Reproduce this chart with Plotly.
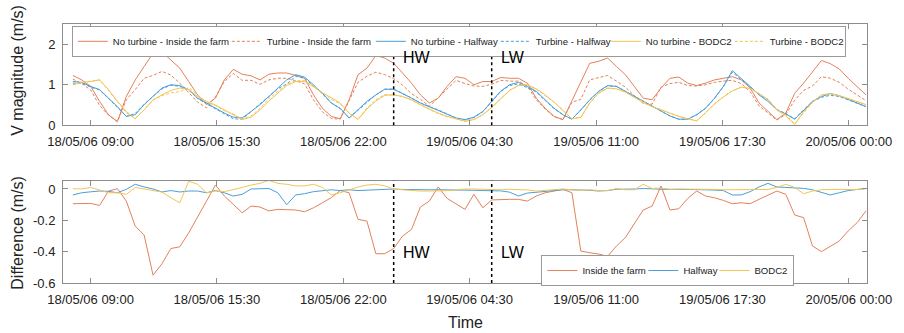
import plotly.graph_objects as go
import pandas as pd

# ---------------- data ----------------
start_time = "2006-05-18 08:05:24"
n_samples = 90
step = "1650s"   # 27.5 min
times = pd.date_range(start_time, periods=n_samples, freq=step)

hw_time = times[36]
lw_time = times[47]

inside_no = [1.23, 1.12, 0.96, 0.59, 0.26, 0.09, 0.71, 1.12, 1.45, 1.78,
             1.81, 1.62, 1.41, 1.08, 0.75, 0.51, 0.67, 1.12, 1.38, 1.26,
             1.22, 1.12, 1.26, 1.29, 1.29, 1.23, 1.16, 0.75, 0.42, 0.22,
             0.16, 0.63, 1.25, 1.41, 1.72, 1.66, 1.53, 1.29, 1.04, 0.75,
             0.55, 0.67, 0.96, 1.20, 1.16, 1.00, 1.08, 1.08, 1.18, 1.16,
             1.16, 1.04, 0.67, 0.42, 0.22, 0.14, 0.59, 1.04, 1.53, 1.58,
             1.66, 1.45, 1.25, 0.96, 0.67, 0.63, 0.92, 1.16, 1.19, 1.04,
             0.98, 1.04, 1.12, 1.16, 1.20, 1.12, 0.92, 0.55, 0.34, 0.14,
             0.30, 0.79, 1.04, 1.33, 1.60, 1.52, 1.39, 1.16, 0.96, 0.75]
inside_tu = [1.14, 1.03, 0.87, 0.49, 0.25, 0.09, 0.63, 0.88, 1.16, 1.23,
             1.33, 1.24, 1.04, 0.80, 0.57, 0.43, 0.70, 1.08, 1.28, 1.11,
             1.11, 1.01, 1.12, 1.16, 1.16, 1.10, 1.02, 0.63, 0.33, 0.17,
             0.15, 0.61, 1.06, 1.21, 1.31, 1.25, 1.15, 0.99, 0.78, 0.64,
             0.47, 0.68, 0.90, 1.11, 1.03, 0.97, 0.96, 1.01, 1.11, 1.09,
             1.09, 0.96, 0.63, 0.40, 0.21, 0.14, 0.57, 0.64, 1.12, 1.17,
             1.23, 1.09, 0.94, 0.73, 0.54, 0.52, 0.94, 1.03, 1.06, 0.98,
             0.97, 1.00, 1.06, 1.09, 1.11, 1.03, 0.83, 0.48, 0.30, 0.13,
             0.27, 0.62, 0.86, 0.97, 1.20, 1.16, 1.06, 0.89, 0.75, 0.61]
half_no = [1.08, 1.06, 0.96, 0.88, 0.67, 0.46, 0.22, 0.26, 0.51, 0.71,
           0.92, 1.00, 0.98, 0.88, 0.67, 0.55, 0.42, 0.30, 0.20, 0.18,
           0.34, 0.51, 0.71, 0.92, 1.12, 1.25, 1.19, 1.00, 0.79, 0.55,
           0.42, 0.18, 0.38, 0.59, 0.75, 0.89, 0.89, 0.79, 0.67, 0.55,
           0.46, 0.38, 0.28, 0.18, 0.14, 0.20, 0.34, 0.59, 0.84, 1.00,
           1.06, 0.96, 0.84, 0.63, 0.42, 0.26, 0.15, 0.38, 0.63, 0.84,
           0.98, 0.96, 0.84, 0.71, 0.59, 0.46, 0.34, 0.23, 0.15, 0.15,
           0.26, 0.42, 0.67, 0.96, 1.35, 1.16, 0.96, 0.75, 0.59, 0.38,
           0.28, 0.15, 0.38, 0.59, 0.71, 0.78, 0.73, 0.63, 0.55, 0.46]
half_tu = [1.04, 1.04, 0.94, 0.87, 0.66, 0.44, 0.22, 0.29, 0.52, 0.71,
           0.90, 0.99, 0.96, 0.87, 0.66, 0.53, 0.41, 0.28, 0.16, 0.15,
           0.34, 0.51, 0.71, 0.90, 1.02, 1.21, 1.16, 0.98, 0.78, 0.55,
           0.41, 0.18, 0.37, 0.58, 0.75, 0.89, 0.89, 0.79, 0.67, 0.55,
           0.46, 0.38, 0.28, 0.18, 0.13, 0.19, 0.33, 0.58, 0.83, 0.98,
           1.02, 0.93, 0.82, 0.61, 0.41, 0.26, 0.15, 0.38, 0.62, 0.83,
           0.97, 0.96, 0.84, 0.71, 0.59, 0.46, 0.34, 0.23, 0.15, 0.15,
           0.26, 0.42, 0.66, 0.95, 1.31, 1.12, 0.94, 0.76, 0.63, 0.39,
           0.29, 0.16, 0.38, 0.59, 0.69, 0.74, 0.71, 0.62, 0.55, 0.46]
bodc_no = [1.00, 1.06, 1.08, 1.12, 0.88, 0.59, 0.34, 0.16, 0.38, 0.63,
           0.75, 0.86, 0.92, 0.88, 0.71, 0.59, 0.50, 0.38, 0.28, 0.14,
           0.20, 0.38, 0.60, 0.80, 0.98, 1.08, 1.08, 0.95, 0.80, 0.68,
           0.55, 0.30, 0.14, 0.40, 0.60, 0.74, 0.75, 0.71, 0.63, 0.51,
           0.40, 0.30, 0.22, 0.16, 0.10, 0.14, 0.26, 0.44, 0.66, 0.86,
           0.98, 1.00, 0.90, 0.75, 0.57, 0.37, 0.16, 0.20, 0.55, 0.80,
           0.92, 0.90, 0.82, 0.69, 0.56, 0.46, 0.38, 0.30, 0.22, 0.16,
           0.11, 0.31, 0.53, 0.70, 0.85, 0.94, 0.91, 0.78, 0.64, 0.38,
           0.23, 0.02, 0.34, 0.57, 0.75, 0.78, 0.73, 0.66, 0.58, 0.51]
bodc_tu = [1.00, 1.06, 1.09, 1.12, 0.86, 0.57, 0.31, 0.17, 0.38, 0.62,
           0.73, 0.80, 0.83, 0.93, 0.74, 0.57, 0.49, 0.36, 0.28, 0.15,
           0.23, 0.42, 0.66, 0.84, 1.01, 1.10, 1.10, 0.98, 0.81, 0.64,
           0.53, 0.30, 0.15, 0.43, 0.63, 0.76, 0.75, 0.71, 0.62, 0.50,
           0.39, 0.29, 0.21, 0.16, 0.10, 0.14, 0.26, 0.44, 0.66, 0.86,
           0.98, 0.99, 0.89, 0.74, 0.57, 0.37, 0.16, 0.19, 0.55, 0.79,
           0.91, 0.90, 0.82, 0.69, 0.59, 0.46, 0.39, 0.30, 0.22, 0.16,
           0.11, 0.31, 0.53, 0.70, 0.85, 0.94, 0.91, 0.78, 0.64, 0.39,
           0.26, 0.03, 0.31, 0.56, 0.75, 0.78, 0.73, 0.66, 0.58, 0.51]

diff_inside = [-0.094, -0.093, -0.092, -0.105, -0.013, 0.002, -0.077, -0.237, -0.294, -0.55,
               -0.477, -0.38, -0.369, -0.28, -0.183, -0.077, 0.025, -0.045, -0.098, -0.152,
               -0.109, -0.115, -0.14, -0.13, -0.132, -0.134, -0.145, -0.12, -0.088, -0.055,
               -0.01, -0.024, -0.194, -0.205, -0.413, -0.413, -0.38, -0.30, -0.258, -0.115,
               -0.077, 0.013, -0.06, -0.094, -0.13, -0.034, -0.12, -0.07, -0.066, -0.066,
               -0.066, -0.077, -0.045, -0.024, -0.013, -0.002, -0.024, -0.396, -0.407, -0.415,
               -0.43, -0.364, -0.31, -0.226, -0.134, -0.109, 0.019, -0.134, -0.126, -0.06,
               -0.013, -0.045, -0.056, -0.073, -0.094, -0.088, -0.094, -0.066, -0.038, -0.013,
               -0.034, -0.166, -0.183, -0.364, -0.40, -0.364, -0.332, -0.268, -0.215, -0.14]
diff_half = [-0.038, -0.024, -0.018, -0.013, -0.015, -0.024, -0.002, 0.03, 0.013, 0.0,
             -0.019, -0.01, -0.019, -0.013, -0.013, -0.024, -0.01, -0.024, -0.045, -0.034,
             0.0, 0.003, 0.003, -0.024, -0.10, -0.038, -0.03, -0.017, -0.01, -0.005,
             -0.01, -0.005, -0.01, -0.008, -0.005, 0.0, 0.0, -0.003, -0.005, -0.005,
             -0.005, -0.005, -0.005, -0.005, -0.007, -0.008, -0.01, -0.01, -0.012, -0.02,
             -0.045, -0.026, -0.02, -0.017, -0.01, -0.005, -0.005, -0.005, -0.008, -0.013,
             -0.01, -0.002, -0.003, 0.0, 0.003, 0.0, 0.0, -0.003, -0.002, -0.002,
             -0.003, -0.005, -0.007, -0.01, -0.038, -0.038, -0.017, 0.013, 0.036, 0.013,
             0.01, 0.006, 0.004, -0.005, -0.024, -0.038, -0.024, -0.01, -0.003, 0.003]
diff_bodc = [0.002, 0.0, 0.01, -0.005, -0.024, -0.024, -0.034, 0.01, 0.0, -0.01,
             -0.02, -0.056, -0.088, 0.05, 0.03, -0.024, -0.013, -0.017, -0.005, 0.01,
             0.025, 0.036, 0.055, 0.036, 0.03, 0.02, 0.02, 0.03, 0.01, -0.038,
             -0.024, -0.005, 0.013, 0.025, 0.03, 0.02, 0.0, -0.005, -0.01, -0.013,
             -0.013, -0.013, -0.01, -0.005, 0.0, 0.0, -0.002, -0.004, -0.005, -0.002,
             -0.004, -0.006, -0.013, -0.008, -0.002, 0.0, -0.005, -0.01, -0.005, -0.01,
             -0.01, 0.003, -0.005, -0.005, 0.03, 0.003, 0.006, -0.002, 0.0, 0.0,
             -0.003, -0.002, -0.003, -0.005, -0.005, -0.005, -0.005, -0.003, -0.003, 0.01,
             0.03, 0.01, -0.03, -0.013, -0.005, -0.003, -0.003, -0.005, -0.003, 0.003]

tick_times = ["2006-05-18 09:00", "2006-05-18 15:30", "2006-05-18 22:00",
              "2006-05-19 04:30", "2006-05-19 11:00", "2006-05-19 17:30",
              "2006-05-20 00:00"]
tick_labels = ["18/05/06 09:00", "18/05/06 15:30", "18/05/06 22:00",
               "19/05/06 04:30", "19/05/06 11:00", "19/05/06 17:30",
               "20/05/06 00:00"]
x_range = ["2006-05-18 07:35", "2006-05-20 00:56"]

# ---------------- style ----------------
C_OR = "#E3805A"
C_BL = "#4A9FD9"
C_YE = "#F2C456"
FONT = "Liberation Sans"
DASH = "3px,2px"
LEG_SIZE = 9.6

fig = go.Figure()

top = [
    ("No turbine - Inside the farm", inside_no, C_OR, "solid", 109),
    ("Turbine - Inside the farm", inside_tu, C_OR, DASH, 99),
    ("No turbine - Halfway", half_no, C_BL, "solid", 80),
    ("Turbine - Halfway", half_tu, C_BL, DASH, 65),
    ("No turbine - BODC2", bodc_no, C_YE, "solid", 79),
    ("Turbine - BODC2", bodc_tu, C_YE, DASH, 70),
]
for name, ys, col, dash, lw in top:
    fig.add_trace(go.Scatter(x=times, y=ys, name=name, mode="lines",
                             line=dict(color=col, width=1, dash=dash),
                             legendwidth=lw,
                             xaxis="x", yaxis="y", legend="legend"))

bottom = [
    ("Inside the farm", diff_inside, C_OR, 56),
    ("Halfway", diff_half, C_BL, 26),
    ("BODC2", diff_bodc, C_YE, 34),
]
for name, ys, col, lw in bottom:
    fig.add_trace(go.Scatter(x=times, y=ys, name=name, mode="lines",
                             line=dict(color=col, width=1), legendwidth=lw,
                             xaxis="x2", yaxis="y2", legend="legend2"))

FRAME = "#8c8c8c"
axis_common = dict(showgrid=False, zeroline=False, showline=True, linecolor=FRAME,
                   linewidth=1, mirror="ticks", ticks="inside", ticklen=5,
                   tickcolor=FRAME, tickfont=dict(family=FONT, size=13, color="#222"))

fig.update_layout(
    width=904, height=333,
    margin=dict(l=63, r=37, t=24, b=50),
    paper_bgcolor="white", plot_bgcolor="white",
    font=dict(family=FONT, size=13, color="#222"),
    xaxis=dict(domain=[0, 1], anchor="y", range=x_range, type="date",
               tickvals=tick_times, ticktext=tick_labels, ticklabelstandoff=4,
               **axis_common),
    yaxis=dict(domain=[0.609, 1], anchor="x", range=[0, 2.5],
               tickvals=[0, 1, 2], ticklabelstandoff=4, **axis_common),
    xaxis2=dict(domain=[0, 1], anchor="y2", range=x_range, type="date",
                tickvals=tick_times, ticktext=tick_labels, ticklabelstandoff=4,
                **axis_common),
    yaxis2=dict(domain=[0, 0.395], anchor="x2", range=[-0.6, 0.053],
                tickvals=[0, -0.2, -0.4, -0.6], ticktext=["0", "-0.2", "-0.4", "-0.6"],
                ticklabelstandoff=4, **axis_common),
    legend=dict(orientation="h", x=0.011, y=0.993, xanchor="left", yanchor="top",
                bgcolor="white", bordercolor="#999999", borderwidth=1,
                font=dict(family=FONT, size=LEG_SIZE, color="#222"), itemwidth=30),
    legend2=dict(orientation="h", x=0.595, y=0.108, xanchor="left", yanchor="top",
                 bgcolor="white", bordercolor="#999999", borderwidth=1,
                 font=dict(family=FONT, size=LEG_SIZE, color="#222"), itemwidth=30),
    showlegend=True,
)

for xr, yr in [("x", "y domain"), ("x2", "y2 domain")]:
    for t in (hw_time, lw_time):
        fig.add_shape(type="line", xref=xr, yref=yr, x0=t, x1=t, y0=0, y1=1,
                      line=dict(color="black", width=1.5, dash="dot"))

for xr, yr, ypos in [("x", "y domain", 0.665), ("x2", "y2 domain", 0.296)]:
    for t, lab in ((hw_time, "HW"), (lw_time, "LW")):
        fig.add_annotation(x=t, y=ypos, xref=xr, yref=yr, text=lab, showarrow=False,
                           xanchor="left", yanchor="middle", xshift=7,
                           font=dict(family=FONT, size=16, color="black"))

fig.add_annotation(x=-0.0576, y=0.822, xref="paper", yref="paper",
                   text="V magnitude (m/s)", textangle=-90, showarrow=False,
                   xanchor="center", yanchor="middle",
                   font=dict(family=FONT, size=16, color="#222"))
fig.add_annotation(x=-0.0576, y=0.193, xref="paper", yref="paper",
                   text="Difference (m/s)", textangle=-90, showarrow=False,
                   xanchor="center", yanchor="middle",
                   font=dict(family=FONT, size=16, color="#222"))
fig.add_annotation(x=0.5, y=-0.1506, xref="paper", yref="paper",
                   text="Time", showarrow=False, xanchor="center", yanchor="middle",
                   font=dict(family=FONT, size=16, color="#222"))

fig.write_html("out.html")
